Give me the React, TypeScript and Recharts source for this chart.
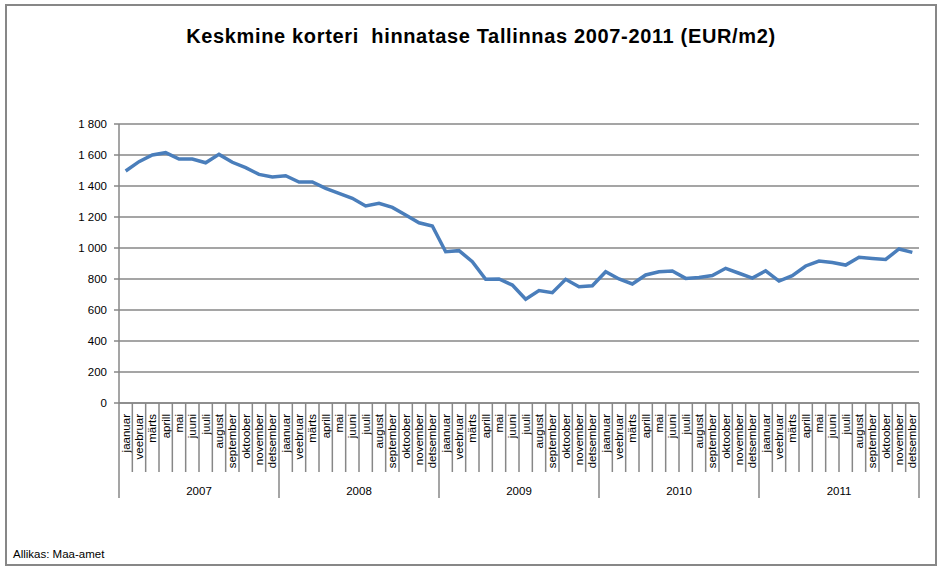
import React from 'react';
import { LineChart, Line, XAxis, YAxis, CartesianGrid } from 'recharts';

const months = ['jaanuar', 'veebruar', 'märts', 'aprill', 'mai', 'juuni', 'juuli', 'august', 'september', 'oktoober', 'november', 'detsember'];
const years = ['2007', '2008', '2009', '2010', '2011'];

// keskmine hind EUR/m2, kuude kaupa
const price2007 = [1497, 1557, 1600, 1615, 1574, 1574, 1550, 1604, 1553, 1518, 1475, 1458];
const price2008 = [1466, 1426, 1426, 1385, 1353, 1321, 1271, 1288, 1262, 1213, 1163, 1142];
const price2009 = [976, 983, 912, 798, 800, 761, 669, 725, 712, 798, 750, 756];
const price2010 = [847, 800, 768, 826, 847, 852, 804, 810, 822, 869, 837, 806];
const price2011 = [853, 787, 822, 884, 916, 906, 890, 940, 933, 926, 994, 972];

const yTicks = [0, 200, 400, 600, 800, 1000, 1200, 1400, 1600, 1800];

const priceByYear = [price2007, price2008, price2009, price2010, price2011];

const data = years.flatMap((year, yi) =>
  months.map((month, mi) => ({
    pos: yi * 12 + mi + 0.5,
    month,
    year,
    price: priceByYear[yi][mi],
  }))
);

const xTicks = data.map(d => d.pos);

const W = 939;
const H = 567;
const PLOT_LEFT = 119;
const PLOT_RIGHT = 919;
const PLOT_TOP = 124;
const PLOT_BOTTOM = 403;
const BAND = (PLOT_RIGHT - PLOT_LEFT) / data.length;
const GRAY = '#878787';
const FONT = '"Liberation Sans", Arial, sans-serif';

const fmt = (v: number) => String(v).replace(/\B(?=(\d{3})+(?!\d))/g, ' ');

const MonthTick = (props: any) => {
  const { x, y, payload } = props;
  const i = Math.floor(payload.value);
  const left = x - BAND / 2;
  const isYearStart = i % 12 === 0;
  const isLast = i === data.length - 1;
  return (
    <g>
      <line x1={left} y1={y} x2={left} y2={y + (isYearStart ? 95 : 69)} stroke={GRAY} strokeWidth={1.5} />
      {isLast && (
        <line x1={x + BAND / 2} y1={y} x2={x + BAND / 2} y2={y + 95} stroke={GRAY} strokeWidth={1.5} />
      )}
      <text
        x={x + 4}
        y={y + 11}
        transform={`rotate(-90, ${x + 4}, ${y + 11})`}
        textAnchor="end"
        fontSize={11.5}
        fontFamily={FONT}
        fill="#000"
      >
        {months[i % 12]}
      </text>
      {isYearStart && (
        <text
          x={left + BAND * 6}
          y={y + 92}
          textAnchor="middle"
          fontSize={11.5}
          fontFamily={FONT}
          fill="#000"
        >
          {years[i / 12]}
        </text>
      )}
    </g>
  );
};

export default function App() {
  return (
    <div style={{ position: 'absolute', left: 0, top: 0, width: W, height: H, background: '#fff' }}>
      <div
        style={{
          position: 'absolute',
          left: 5,
          top: 4,
          width: 928,
          height: 558,
          border: `2px solid ${GRAY}`,
        }}
      />
      <div
        style={{
          position: 'absolute',
          left: 185,
          top: 25,
          width: 592,
          textAlign: 'center',
          whiteSpace: 'nowrap',
          fontFamily: FONT,
          fontWeight: 'bold',
          fontSize: 20,
          letterSpacing: 0.65,
          color: '#000',
        }}
      >
        Keskmine korteri&nbsp; hinnatase Tallinnas 2007-2011 (EUR/m2)
      </div>
      <div
        style={{
          position: 'absolute',
          left: 13,
          top: 548,
          fontFamily: FONT,
          fontSize: 11.5,
          color: '#000',
        }}
      >
        Allikas: Maa-amet
      </div>
      <LineChart
        width={W}
        height={H}
        data={data}
        margin={{ top: PLOT_TOP, right: W - PLOT_RIGHT, bottom: 0, left: 0 }}
        style={{ position: 'absolute', left: 0, top: 0 }}
      >
        <CartesianGrid vertical={false} stroke={GRAY} strokeWidth={1.5} />
        <XAxis
          type="number"
          dataKey="pos"
          domain={[0, data.length]}
          ticks={xTicks}
          interval={0}
          tick={<MonthTick />}
          tickLine={false}
          tickSize={0}
          tickMargin={0}
          axisLine={{ stroke: GRAY, strokeWidth: 1.5 }}
          height={H - PLOT_BOTTOM}
        />
        <YAxis
          width={PLOT_LEFT}
          domain={[0, 1800]}
          ticks={yTicks}
          interval={0}
          tickFormatter={fmt}
          tickSize={5}
          tickMargin={7}
          tickLine={{ stroke: GRAY, strokeWidth: 1.5 }}
          axisLine={{ stroke: GRAY, strokeWidth: 1.5 }}
          tick={{ fontSize: 11.5, fontFamily: FONT, fill: '#000' }}
        />
        <Line
          type="linear"
          dataKey="price"
          stroke="#4a7ebb"
          strokeWidth={3.5}
          dot={false}
          isAnimationActive={false}
        />
      </LineChart>
    </div>
  );
}
